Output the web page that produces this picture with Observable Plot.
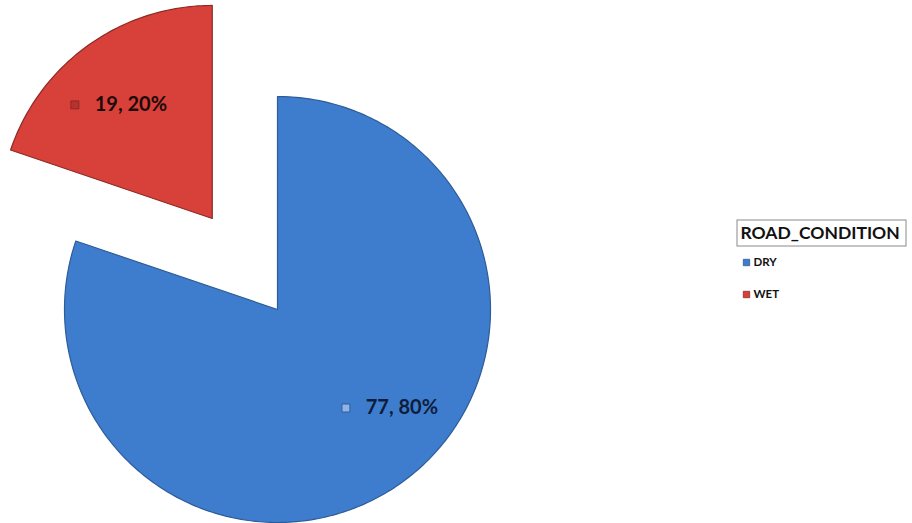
<!DOCTYPE html>
<html>
<head>
<meta charset="utf-8">
<script src="https://cdn.jsdelivr.net/npm/d3@7"></script>
<script src="https://cdn.jsdelivr.net/npm/@observablehq/plot@0.6"></script>
<style>
  html, body { margin: 0; padding: 0; background: #ffffff; }
  #chart svg { display: block; }
</style>
</head>
<body>
<div id="chart"></div>
<script>
// ---- data ----
const categories = ["DRY", "WET"];
const counts = [77, 19];
const percentLabels = ["80%", "20%"];
const legendTitle = "ROAD_CONDITION";

// ---- style / layout ----
const fills = ["#3e7dcd", "#d8403a"];
const edges = ["#2d5c98", "#8c2a25"];
const markerFills = ["#8fb4e6", "#b8322d"];
const labelColors = ["#0e1d3d", "#1c0b0a"];
const explode = [0, 112];       // px offset of each slice
const labelRadius = [0.745, 0.656];
const labelShiftDeg = [-16, 0];
const W = 912, H = 523;
const cx = 277, cy = 309, R = 213;

const arcs = d3.pie().sort(null).value(d => d)(counts);

const slices = [];
const labels = [];
arcs.forEach((a, i) => {
  const mid = (a.startAngle + a.endAngle) / 2;
  const ox = cx + explode[i] * Math.sin(mid);
  const oy = cy - explode[i] * Math.cos(mid);
  const pts = [[ox, oy]];
  const n = Math.max(2, Math.ceil((a.endAngle - a.startAngle) / (Math.PI / 180)));
  for (let k = 0; k <= n; k++) {
    const t = a.startAngle + (a.endAngle - a.startAngle) * k / n;
    pts.push([ox + R * Math.sin(t), oy - R * Math.cos(t)]);
  }
  pts.push([ox, oy]);
  pts.forEach(([x, y]) => slices.push({cat: categories[i], x, y, fill: fills[i], edge: edges[i]}));
  const la = mid + labelShiftDeg[i] * Math.PI / 180;
  const lr = labelRadius[i] * R;
  labels.push({
    cat: categories[i],
    x: ox + lr * Math.sin(la),
    y: oy - lr * Math.cos(la),
    text: `${counts[i]}, ${percentLabels[i]}`,
    mfill: markerFills[i], edge: edges[i], color: labelColors[i]
  });
});

const legendItems = categories.map((c, i) => ({cat: c, x: 746, y: 262 + i * 32, fill: fills[i], edge: edges[i]}));

const chart = Plot.plot({
  width: W, height: H,
  margin: 0,
  style: {background: "#ffffff", fontFamily: "Lato, 'Open Sans', sans-serif"},
  x: {domain: [0, W], range: [0, W], axis: null},
  y: {domain: [0, H], range: [0, H], axis: null},
  color: {type: "identity"},
  marks: [
    Plot.line(slices, {
      x: "x", y: "y", z: "cat",
      fill: "fill", stroke: "edge", strokeWidth: 1.2, strokeLinejoin: "round",
      curve: "linear"
    }),
    Plot.dot(labels, {
      x: d => d.x - 56, y: "y", symbol: "square", r: 4.5,
      fill: "mfill", stroke: "edge", strokeWidth: 1
    }),
    Plot.text(labels, {
      x: "x", y: "y", text: "text", textAnchor: "middle",
      fill: "color", fontSize: 20, fontWeight: "bold"
    }),
    // legend
    Plot.rect([{}], {x1: 737, x2: 906, y1: 220, y2: 246, fill: "none", stroke: "#8a8a8a", strokeWidth: 1}),
    Plot.text([legendTitle], {x: 740, y: 233, text: d => d, textAnchor: "start", fontSize: 17.5, fontWeight: "bold", fill: "#111"}),
    Plot.dot(legendItems, {x: "x", y: "y", symbol: "square", r: 3.6, fill: "fill", stroke: "edge", strokeWidth: 0.8}),
    Plot.text(legendItems, {x: d => d.x + 7, y: "y", text: "cat", textAnchor: "start", fontSize: 11.5, fontWeight: "bold", fill: "#111"})
  ]
});
document.getElementById("chart").appendChild(chart);
</script>
</body>
</html>
